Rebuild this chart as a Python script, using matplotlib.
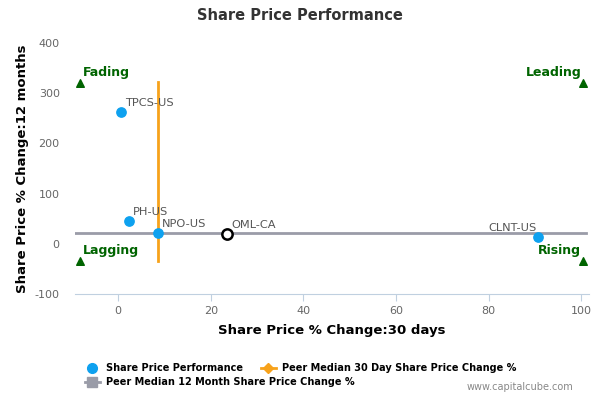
import matplotlib
matplotlib.use('Agg')
import matplotlib.pyplot as plt
from matplotlib.lines import Line2D

plt.rcParams['axes.unicode_minus'] = False

# data
names = ['TPCS-US', 'PH-US', 'NPO-US', 'CLNT-US']
x30 = [0.6, 2.3, 8.6, 90.7]
y12 = [262, 45, 22, 13]
own_name = 'OML-CA'
own_x = 23.5
own_y = 19
med_30 = 8.6
med_12 = 22
v_line_y = [-35, 322]
h_line_x = [-9.3, 101.0]
quad_names = ['Fading', 'Leading', 'Lagging', 'Rising']
quad_x = [-8.3, 100.3, -8.3, 100.3]
quad_y = [320, 320, -35, -35]

blue = '#0ea1ef'
orange = '#f7a21b'
grey = '#9a9ca8'
green = '#006400'

fig = plt.figure(figsize=(6, 4), dpi=100)
ax = fig.add_axes([0.125, 0.265, 0.857, 0.6275])

ax.plot(h_line_x, [med_12, med_12], color=grey, lw=2, zorder=2)
ax.plot([med_30, med_30], v_line_y, color=orange, lw=2, zorder=2)
ax.scatter(x30, y12, s=45, color=blue, zorder=3)
ax.scatter([own_x], [own_y], s=55, facecolor='white', edgecolor='black', lw=1.8, zorder=4)

for n, x, y in zip(names, x30, y12):
    if n == 'CLNT-US':
        ax.annotate(n, (x, y), xytext=(-1.5, 3), textcoords='offset points', ha='right',
                    va='bottom', fontsize=8.2, color='#555555')
    else:
        ax.annotate(n, (x, y), xytext=(3, 3), textcoords='offset points',
                    va='bottom', fontsize=8.2, color='#555555')
ax.annotate(own_name, (own_x, own_y), xytext=(3, 3), textcoords='offset points',
            va='bottom', fontsize=8.2, color='#555555')

ax.scatter(quad_x, quad_y, marker='^', s=30, color=green, zorder=3)
for n, x, y in zip(quad_names, quad_x, quad_y):
    if x < 50:
        ax.annotate(n, (x, y), xytext=(2, 3), textcoords='offset points', fontsize=9,
                    fontweight='bold', color=green, va='bottom')
    else:
        ax.annotate(n, (x, y), xytext=(-1, 3), textcoords='offset points', fontsize=9,
                    fontweight='bold', color=green, va='bottom', ha='right')

ax.set_xlim(-9.3, 101.7)
ax.set_ylim(-100, 400)
ax.set_xticks([0, 20, 40, 60, 80, 100])
ax.set_yticks([-100, 0, 100, 200, 300, 400])
for s in ['top', 'right', 'left']:
    ax.spines[s].set_visible(False)
ax.spines['bottom'].set_color('#c0d0e0')
ax.tick_params(axis='x', colors='#c0d0e0', labelcolor='#666666', labelsize=8, length=5)
ax.tick_params(axis='y', length=0, labelcolor='#666666', labelsize=8, pad=11)
ax.set_xlabel('Share Price % Change:30 days', fontsize=9.5, fontweight='bold', labelpad=6)
ax.set_ylabel('Share Price % Change:12 months', fontsize=9.5, fontweight='bold', labelpad=4)
fig.text(0.5, 0.96, 'Share Price Performance', ha='center', va='center', fontsize=10.5,
         fontweight='bold', color='#333333')

h_perf = Line2D([], [], ls='none', marker='o', color=blue, markersize=7)
h_30 = Line2D([], [], color=orange, lw=2, marker='D', markersize=5)
h_12 = Line2D([], [], color=grey, lw=2, marker='s', markersize=7)
lprop = {'weight': 'bold', 'size': 7}
fig.legend([h_perf, h_30], ['Share Price Performance', 'Peer Median 30 Day Share Price Change %'],
           ncol=2, loc='center left', bbox_to_anchor=(0.142, 0.08), frameon=False,
           prop=lprop, handlelength=1.5, columnspacing=1.9, handletextpad=0.6,
           borderaxespad=0, borderpad=0)
fig.legend([h_12], ['Peer Median 12 Month Share Price Change %'],
           loc='center left', bbox_to_anchor=(0.142, 0.045), frameon=False,
           prop=lprop, handlelength=1.5, handletextpad=0.6, borderaxespad=0, borderpad=0)
fig.text(0.955, 0.02, 'www.capitalcube.com', ha='right', va='bottom', fontsize=7, color='#888888')

fig.savefig('out.png', dpi=100)
